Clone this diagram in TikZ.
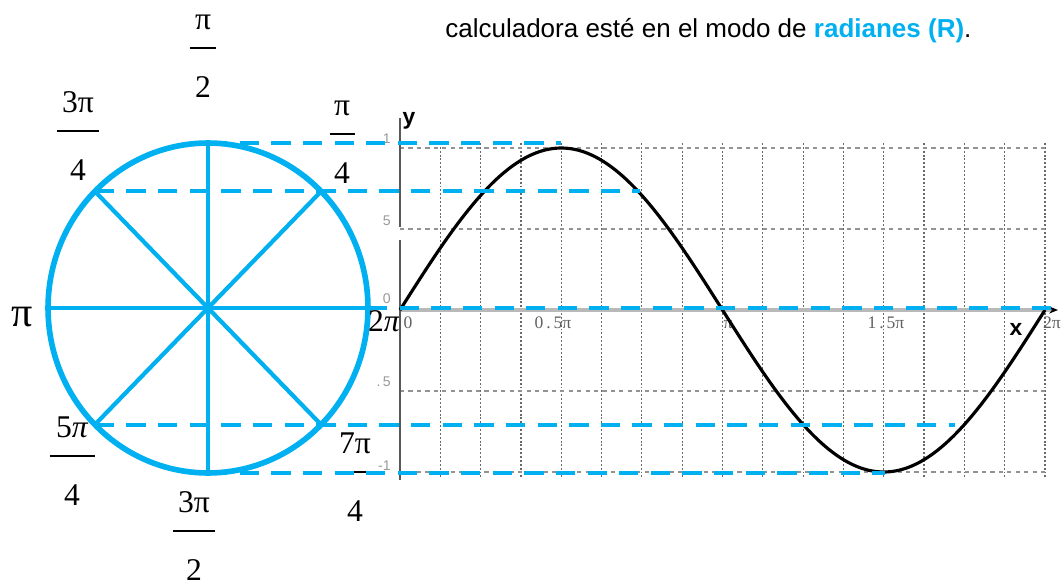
\documentclass[tikz,border=0pt]{standalone}
\usepackage{fontspec}
\setmainfont{Liberation Serif}
\newfontfamily\notesans{Liberation Sans}
\usetikzlibrary{arrows.meta}
\definecolor{radblue}{RGB}{0,176,240}
\definecolor{gridgray}{RGB}{105,105,105}

\begin{document}
\begin{tikzpicture}[x=0.02cm, y=-0.02cm,
  spoke/.style={radblue, line width=2.4pt},
  proj/.style={radblue, line width=2.2pt, dash pattern=on 11pt off 7pt},
  fracpart/.style={font=\fontsize{18}{20}\selectfont, anchor=base, inner sep=0pt},
  vgrid/.style={gridgray, line width=0.7pt, dash pattern=on 1.1pt off 1.1pt},
  hgrid/.style={gray!85, line width=0.6pt, dash pattern=on 2.4pt off 2.4pt},
  xtick/.style={font=\fontsize{10}{11}\selectfont, gray!75!black, anchor=base, inner sep=0pt},
  ytick/.style={font=\notesans\fontsize{8}{9}\selectfont, gray!80, inner sep=0pt}]
  \useasboundingbox (0,0) rectangle (1063,585);

  % Note at the top
  \node[anchor=base west, inner sep=0pt, font=\notesans\fontsize{14.8}{17}\selectfont] (note) at (445,37)
    {calculadora esté en el modo de {\bfseries\color{radblue}radianes (R)}.};

  % Unit circle
  \coordinate (O) at (208,308);
  \foreach \a in {0,45,...,315}
    \coordinate (c\a) at ({208+160*cos(\a)},{308-165*sin(\a)});
  \draw[spoke] (c0) -- (c180);
  \draw[spoke] (c90) -- (c270);
  \draw[spoke] (c45) -- (c225);
  \draw[spoke] (c135) -- (c315);
  \draw[radblue, line width=3.2pt] (O) ellipse [x radius=3.2cm, y radius=3.3cm];

  % Angle labels
  \foreach \nm/\xx/\yy/\w/\num/\den in {
    p2/203/29/26/π/2,
    p34/78/112/42/3π/4,
    p4/342/115/25/π/4,
    p54/72/437/45/5{\itshape π}/4,
    p32/194/512/42/3π/2,
    p74/355/453/36/7π/4
  }{
    \node[fracpart] (\nm n) at (\xx,\yy) {\num};
    \draw[line width=0.6pt] (\xx-\w/2,\yy+19) -- (\xx+\w/2,\yy+19);
    \node[fracpart] (\nm d) at (\xx,\yy+68) {\den};
  }
  \node[anchor=base, inner sep=0pt, font=\fontsize{24}{26}\selectfont] (p1) at (22,326) {π};
  \node[fracpart] (p0) at (384,331) {2{\itshape π}};

  % Grid of the graph
  \foreach \k in {1,...,16}
    \draw[vgrid] ({400+40.3125*\k},143) -- ({400+40.3125*\k},478);
  \foreach \yy in {148,229,391,472}
    \draw[hgrid] (400,\yy) -- (1048,\yy);

  % Axes
  \draw[gray!55, line width=2.2pt, -{Stealth[length=5pt, width=4pt, black]}] (400,310) -- (1058,310);
  \draw[gray!70!black, line width=1.1pt] (400,118) -- (400,227);
  \draw[gray!70!black, line width=1.1pt] (400,240) -- (400,480);
  \node[font=\notesans\bfseries\fontsize{13}{14}\selectfont] (ylbl) at (409,121) {y};
  \node[font=\notesans\bfseries\fontsize{13}{14}\selectfont] (xlbl) at (1016,329) {x};

  % Tick labels
  \foreach \nm/\xx/\t in {t0/408/0, t1/553/0\,.\,5π, t2/728/π, t3/886/1\,.\,5π, t4/1052/2π}
    \node[xtick] (\nm) at (\xx,328) {\t};
  \foreach \nm/\yy/\t in {v1/139/1, v2/221/5, v3/299/0, v4/382/.\,5, v5/466/-1}
    \node[ytick, anchor=east] (\nm) at (391,\yy) {\t};

  % Sine curve
  \draw[line width=1.8pt] plot[domain=0:360, samples=120, smooth]
    ({400+\x*1.79167},{310-162*sin(\x)});

  % Projections to the graph
  \coordinate (g90) at (561,0);
  \coordinate (g45) at (640,0);
  \coordinate (g0) at (1055,0);
  \coordinate (g225) at (955,0);
  \coordinate (g270) at (885,0);
  \draw[proj] (c90) -- (c90 -| g90);
  \draw[proj] (c135) -- (c135 -| g45);
  \draw[proj] (c0) -- (c0 -| g0);
  \draw[proj] (c225) -- (c225 -| g225);
  \draw[proj] (c270) -- (c270 -| g270);
\end{tikzpicture}
\end{document}
